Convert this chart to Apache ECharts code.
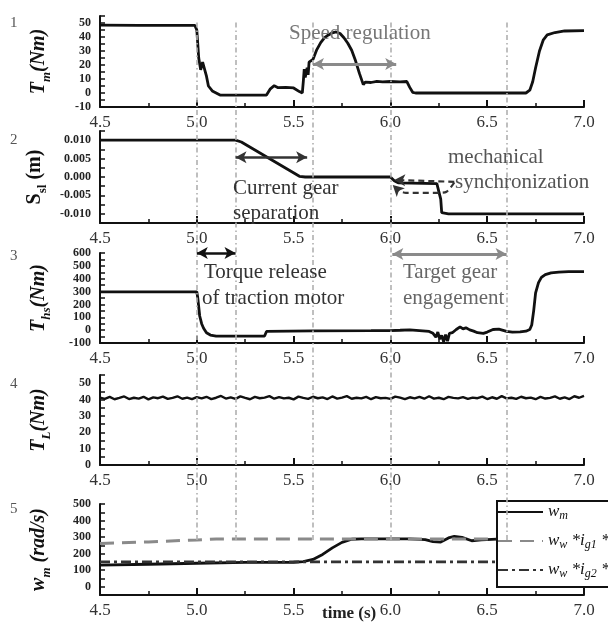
<!DOCTYPE html>
<html><head><meta charset="utf-8">
<script src="https://cdn.jsdelivr.net/npm/echarts@6/dist/echarts.min.js"></script>
<style>html,body{margin:0;padding:0;background:#fff}#c{width:608px;height:622px}</style>
</head><body><div id="c"></div>
<script>
// ---------- data ----------
const phaseTimes = [5.0, 5.2, 5.6, 6.0, 6.6];

const motorTorque = [[4.5,48.5],[4.7,48.3],[4.99,48.3],[5.0,45],[5.005,35],[5.01,25],[5.02,16.5],[5.03,22],[5.04,21],[5.05,12],[5.06,5],[5.08,1.5],[5.12,-1.5],[5.36,-1.5],[5.38,3],[5.40,5.2],[5.42,3.8],[5.46,4],[5.5,3.6],[5.53,1],[5.545,0],[5.55,8],[5.555,17],[5.56,11],[5.57,18],[5.575,13],[5.58,22],[5.6,24],[5.62,31],[5.64,36],[5.66,39.5],[5.68,41.5],[5.7,43],[5.72,43.6],[5.74,42.5],[5.76,39.5],[5.78,35.5],[5.80,30.5],[5.82,23],[5.84,14],[5.86,6],[5.87,7.8],[5.9,7.5],[5.93,8.3],[5.96,7.9],[6.0,8.2],[6.05,8],[6.085,8.2],[6.1,4],[6.115,0.5],[6.13,0],[6.7,0],[6.72,2],[6.735,8],[6.75,18],[6.77,30],[6.79,38],[6.81,41.5],[6.85,43.2],[6.9,44.3],[7.0,44.5]];

const sleeveDisp = [[4.5,0.010],[5.2,0.010],[5.23,0.0095],[5.53,0.0002],[5.56,0],[6.0,0],[6.02,-0.0010],[6.04,-0.0016],[6.24,-0.0018],[6.25,-0.0022],[6.26,-0.0060],[6.265,-0.0097],[6.3,-0.0100],[7.0,-0.0100]];

const syncLowerCurve = [[6.33,-0.0015],[6.29,-0.0040],[6.25,-0.0043],[6.08,-0.0043],[6.045,-0.0038]];

const halfShaftTorque = [[4.5,298],[5.0,298],[5.005,250],[5.01,180],[5.015,110],[5.025,50],[5.035,15],[5.05,-20],[5.07,-38],[5.1,-46],[5.35,-46],[5.36,-10],[5.37,-6],[5.6,-6],[5.9,-4],[6.0,-3],[6.05,-1],[6.1,2],[6.15,-4],[6.2,-10],[6.22,-25],[6.235,-55],[6.245,-15],[6.255,-70],[6.265,-40],[6.275,-92],[6.285,-35],[6.295,-85],[6.305,-25],[6.32,-20],[6.34,5],[6.36,25],[6.375,10],[6.39,18],[6.41,2],[6.43,-8],[6.45,-20],[6.48,-25],[6.5,-15],[6.53,5],[6.56,8],[6.6,-10],[6.63,-15],[6.67,-14],[6.7,-8],[6.72,5],[6.73,40],[6.74,150],[6.75,290],[6.765,370],[6.78,410],[6.8,432],[6.83,446],[6.87,452],[6.92,455],[7.0,455]];

const loadTime0 = 4.5, loadStep = 0.025;
const loadTorque = [41.2,40.4,41.6,40.2,41.0,41.9,40.3,41.1,40.6,41.7,40.1,41.3,40.8,41.8,40.4,41.0,42.0,40.5,41.2,40.2,41.5,40.7,41.7,40.3,41.1,42.2,40.6,41.3,40.4,41.9,41.0,40.2,41.6,40.8,41.2,42.1,40.5,41.5,40.7,41.1,40.1,41.8,41.0,40.4,41.7,40.8,41.3,40.3,41.9,40.6,41.2,42.1,40.5,41.1,40.7,41.6,40.2,41.5,40.8,41.0,40.4,41.8,41.2,40.3,41.4,40.7,41.7,40.5,42.0,40.6,41.1,40.2,41.6,41.0,40.7,41.5,40.4,41.2,40.8,41.8,40.3,41.4,40.5,42.1,40.7,41.1,40.4,41.7,40.8,41.2,40.2,41.6,40.6,41.0,41.9,40.5,41.3,40.3,42.0,41.1,42.3];

const motorSpeed = [[4.5,130],[4.75,136],[5.0,142],[5.25,147],[5.5,148],[5.55,152],[5.6,165],[5.65,195],[5.7,235],[5.75,268],[5.8,287],[5.85,289],[6.1,289],[6.18,285],[6.22,272],[6.26,270],[6.3,295],[6.33,305],[6.37,298],[6.42,278],[6.47,283],[6.55,288]];
const gear1Speed = [[4.5,262],[4.75,271],[5.0,283],[5.1,288],[6.55,289]];
const gear2Speed = [[4.5,150],[6.55,150]];

// ---------- helpers ----------
const SERIF = '"Liberation Serif","Times New Roman","DejaVu Serif",serif';
const L = 100, W = 484;
const panels = [
  {top:16,  h:91, min:-10,    max:55,     step:5,      lab:10,    dec:0},
  {top:131, h:92, min:-0.0125,max:0.0125, step:0.0025, lab:0.005, dec:3},
  {top:253, h:90, min:-100,   max:600,    step:50,     lab:100,   dec:0},
  {top:375, h:90, min:0,      max:55,     step:5,      lab:10,    dec:0},
  {top:504, h:91, min:-50,    max:500,    step:50,     lab:100,   dec:0, noNeg:true}
];
const grids = panels.map(p => ({left:L, width:W, top:p.top, height:p.h, show:false}));
grids.push({left:L, width:W, top:22, height:518, show:false});

const xAxes = panels.map((p,i) => ({
  gridIndex:i, type:'value', min:4.5, max:7.0, interval:0.5,
  axisLine:{show:true, onZero:false, lineStyle:{color:'#111', width:2}},
  axisTick:{show:true, inside:true, length:7, lineStyle:{color:'#111', width:2}},
  minorTick:{show:true, splitNumber:2, length:4, lineStyle:{color:'#111', width:1.5}},
  splitLine:{show:false},
  axisLabel:{fontFamily:SERIF, fontSize:17, color:'#333', margin:7, formatter:v=>v.toFixed(1)}
}));
xAxes.push({gridIndex:5, type:'value', min:4.5, max:7.0, show:false});

const yNames = [
  '{i|T}{s|m}{i|(Nm)}',
  '{r|S}{rs|sl}{r| (m)}',
  '{i|T}{s|hs}{i|(Nm)}',
  '{i|T}{s|L}{i|(Nm)}',
  '{i|w}{s|m}{i| (rad/s)}'
];
const nameRich = {
  i:{fontFamily:SERIF, fontStyle:'italic', fontWeight:'bold', fontSize:20, lineHeight:28, color:'#111'},
  s:{fontFamily:SERIF, fontStyle:'italic', fontWeight:'bold', fontSize:13, lineHeight:14, verticalAlign:'bottom', color:'#111'},
  r:{fontFamily:SERIF, fontWeight:'bold', fontSize:20, lineHeight:28, color:'#111'},
  rs:{fontFamily:SERIF, fontWeight:'bold', fontSize:13, lineHeight:14, verticalAlign:'bottom', color:'#111'}
};
const yAxes = panels.map((p,i) => ({
  gridIndex:i, type:'value', min:p.min, max:p.max, interval:p.step,
  name:yNames[i], nameLocation:'middle', nameRotate:90, nameGap:47,
  nameTextStyle:{rich:nameRich},
  axisLine:{show:true, onZero:false, lineStyle:{color:'#111', width:2}},
  axisTick:{show:true, inside:true, length:5, lineStyle:{color:'#111', width:1.5}},
  splitLine:{show:false},
  axisLabel:{fontFamily:SERIF, fontWeight:'bold', fontSize:12, color:'#222', margin:9,
    formatter:v=>{
      const k = v / p.lab;
      if (Math.abs(k - Math.round(k)) > 1e-6) return '';
      if (v > p.max - p.step/2 && Math.abs(p.max/p.lab - Math.round(p.max/p.lab))>1e-6) return '';
      if (p.noNeg && v < 0) return '';
      if (Math.abs(v) < 1e-9) return p.dec ? (0).toFixed(p.dec) : '0';
      return v.toFixed(p.dec);
    }}
}));
yAxes.push({gridIndex:5, type:'value', min:0, max:1, show:false});

const black = '#111';
const arrowLine = (a, b, color, width) => [
  {coord:a, lineStyle:{color:color, width:width, type:'solid'}},
  {coord:b}
];
const mlBase = {silent:true, animation:false, label:{show:false}, symbol:['arrow','arrow'], symbolSize:[9,11], emphasis:{disabled:true}};

const series = [
  {type:'line', xAxisIndex:5, yAxisIndex:5, data:[[4.5,0.5]], symbol:'none', lineStyle:{opacity:0}, silent:true,
   markLine:{silent:true, symbol:'none', label:{show:false}, animation:false,
     lineStyle:{color:'#b0b0b0', width:1.6, type:[5,3,1.5,3]},
     data:phaseTimes.map(t=>({xAxis:t}))}},
  {type:'line', xAxisIndex:0, yAxisIndex:0, data:motorTorque, symbol:'none', lineStyle:{color:black, width:2.8},
   markLine:Object.assign({}, mlBase, {data:[arrowLine([5.6,20.7],[6.03,20.7],'#8a8a8a',3)]})},
  {type:'line', xAxisIndex:1, yAxisIndex:1, data:sleeveDisp, symbol:'none', lineStyle:{color:black, width:2.8},
   markLine:Object.assign({}, mlBase, {data:[
     arrowLine([5.2,0.0054],[5.57,0.0054],'#333',2.5),
     [{coord:[6.33,-0.0013], symbol:'none', lineStyle:{color:'#333', width:2.2, type:[6,4]}},{coord:[6.02,-0.0008], symbol:'arrow'}],
     [{coord:[6.045,-0.0038], symbol:'none', lineStyle:{color:'#333', width:2.2, type:[6,4]}},{coord:[6.012,-0.0022], symbol:'arrow'}]
   ]})},
  {type:'line', xAxisIndex:1, yAxisIndex:1, data:syncLowerCurve, symbol:'none', smooth:0.3,
   lineStyle:{color:'#333', width:2.2, type:[6,4]}},
  {type:'line', xAxisIndex:2, yAxisIndex:2, data:halfShaftTorque, symbol:'none', lineStyle:{color:black, width:2.8},
   markLine:Object.assign({}, mlBase, {data:[
     arrowLine([5.0,600],[5.2,600],'#111',2.5),
     arrowLine([6.01,592],[6.6,592],'#8a8a8a',3)
   ]})},
  {type:'line', xAxisIndex:3, yAxisIndex:3, data:loadTorque.map((v,i)=>[loadTime0 + i*loadStep, v]), symbol:'none', lineStyle:{color:black, width:2.4}},
  {name:'wm', type:'line', xAxisIndex:4, yAxisIndex:4, data:motorSpeed, symbol:'none', color:black, lineStyle:{color:black, width:2.8}},
  {name:'wg1', type:'line', xAxisIndex:4, yAxisIndex:4, data:gear1Speed, symbol:'none', color:'#8a8a8a', lineStyle:{color:'#8a8a8a', width:3, type:[14,8]}},
  {name:'wg2', type:'line', xAxisIndex:4, yAxisIndex:4, data:gear2Speed, symbol:'none', color:'#333', lineStyle:{color:'#333', width:2.6, type:[10,4,3,4]}}
];

const legendText = {
  wm:'{v|w}{s|m}',
  wg1:'{v|w}{s|w}{v| *i}{s|g1}{v| *i}{s|f}',
  wg2:'{v|w}{s|w}{v| *i}{s|g2}{v| *i}{s|f}'
};

const txt = (x, y, text, color, size) => ({type:'text', x:x, y:y, z:50,
  style:{text:text, fill:color, font:`${size||21}px ${SERIF}`, verticalAlign:'middle', align:'left'}});

const option = {
  animation:false,
  backgroundColor:'#fff',
  grid:grids, xAxis:xAxes, yAxis:yAxes, series:series,
  legend:{
    data:['wm','wg1','wg2'], left:497, top:501, orient:'vertical',
    itemWidth:45, itemHeight:14, itemGap:9, padding:[1,4,7,0],
    itemStyle:{opacity:0},
    backgroundColor:'#fff', borderColor:'#111', borderWidth:2, selectedMode:false,
    formatter:n=>legendText[n],
    textStyle:{fontFamily:SERIF, fontSize:16, color:'#111', lineHeight:18,
      rich:{
        v:{fontFamily:SERIF, fontStyle:'italic', fontSize:17, lineHeight:20, color:'#111'},
        s:{fontFamily:SERIF, fontStyle:'italic', fontSize:12, lineHeight:11, verticalAlign:'bottom', color:'#111'}
      }}
  },
  graphic:[
    txt(10,23,'1','#555',15), txt(10,140,'2','#555',15), txt(10,256,'3','#555',15), txt(10,384,'4','#555',15), txt(10,509,'5','#555',15),
    txt(289,33,'Speed regulation','#777'),
    txt(233,188,'Current gear','#333'),
    txt(233,213,'separation','#333'),
    txt(448,157,'mechanical','#555'),
    txt(455,182,'synchronization','#555'),
    txt(204,272,'Torque release','#333'),
    txt(202,298,'of traction motor','#333'),
    txt(403,272,'Target gear','#666'),
    txt(403,298,'engagement','#666'),
    {type:'text', x:322, y:614, z:50, style:{text:'time (s)', fill:'#222', font:`bold 17px ${SERIF}`, verticalAlign:'middle', align:'left'}}
  ]
};
const chart = echarts.init(document.getElementById('c'));
chart.setOption(option);
</script></body></html>
